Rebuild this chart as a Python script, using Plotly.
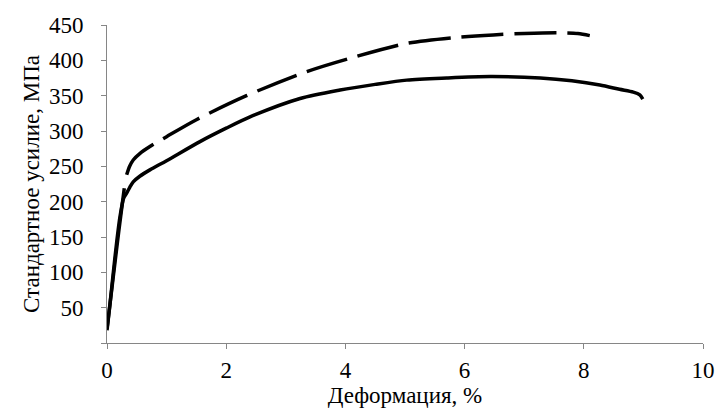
import plotly.graph_objects as go

# Solid curve (sample 1)
solid_x = [0.0, 0.05, 0.10, 0.16, 0.22, 0.28, 0.33, 0.38, 0.44, 0.55, 0.72, 1.0, 1.56, 2.0, 2.4, 3.24, 3.91, 4.5, 5.03, 5.7, 6.43, 7.27, 7.8, 8.27, 8.6, 8.83, 8.94, 8.99]
solid_y = [18, 55, 95, 141, 180, 205, 212, 220, 228, 236, 245, 258, 285, 304, 320, 346, 358, 366, 372, 375, 377, 375, 371, 365, 359, 355, 351, 345]

# Dashed curve (sample 2): elastic part then plastic part
dash_el_x = [0.0, 0.10, 0.20, 0.29]
dash_el_y = [20, 90, 160, 219]
dash_x = [0.33, 0.38, 0.44, 0.55, 0.72, 1.0, 1.5, 2.34, 3.35, 4.08, 5.03, 5.8, 6.48, 7.0, 7.55, 7.9, 8.1]
dash_y = [238, 250, 259, 268, 278, 292, 316, 350, 384, 403, 424, 432, 436, 438, 439, 438, 435]

x_ticks = [0, 2, 4, 6, 8, 10]
y_ticks = [0, 50, 100, 150, 200, 250, 300, 350, 400, 450]
y_ticktext = [""] + [str(v) for v in y_ticks[1:]]

FONT = "Liberation Serif, Times New Roman, serif"
AX = "#868686"
FS = 23

fig = go.Figure()
fig.add_trace(go.Scatter(x=dash_el_x, y=dash_el_y, mode="lines",
                         line=dict(color="black", width=3.5, shape="spline"), showlegend=False))
fig.add_trace(go.Scatter(x=dash_x, y=dash_y, mode="lines",
                         line=dict(color="black", width=3.5, dash="42px,11px", shape="spline", smoothing=0.8),
                         showlegend=False))
fig.add_trace(go.Scatter(x=solid_x, y=solid_y, mode="lines",
                         line=dict(color="black", width=3.5, shape="spline", smoothing=0.8), showlegend=False))

fig.update_layout(
    width=719, height=410,
    margin=dict(l=107, r=16, t=25, b=67),
    plot_bgcolor="white", paper_bgcolor="white",
    font=dict(family=FONT, size=FS, color="black"),
    xaxis=dict(range=[0, 10], tickvals=x_ticks, showgrid=False, zeroline=False,
               showline=True, linecolor=AX, linewidth=1, ticks="outside", ticklen=5,
               tickcolor=AX, ticklabelstandoff=1, automargin=False,
               title=dict(text="Деформация, %", font=dict(size=FS), standoff=0)),
    yaxis=dict(range=[0, 450], tickvals=y_ticks, ticktext=y_ticktext, showgrid=False,
               zeroline=False, showline=True, linecolor=AX, linewidth=1, ticks="outside",
               ticklen=5, tickcolor=AX, ticklabelstandoff=13, automargin=False,
               title=dict(text="Стандартное усилие, МПа", font=dict(size=FS), standoff=2)),
)
fig.write_html("out.html")
